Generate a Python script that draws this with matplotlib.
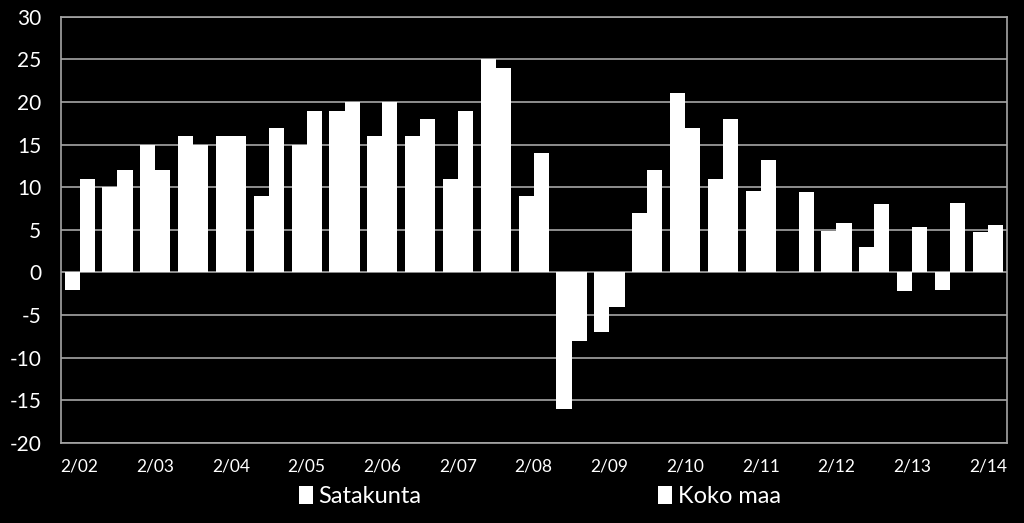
import numpy as np
import matplotlib
matplotlib.use("Agg")
import matplotlib.pyplot as plt

plt.rcParams['font.family'] = ['Lato', 'DejaVu Sans']
plt.rcParams['axes.unicode_minus'] = False

# puolivuosittaiset havainnot 2/02 ... 2/14
kaudet = ['2/02', '8/02', '2/03', '8/03', '2/04', '8/04', '2/05', '8/05',
          '2/06', '8/06', '2/07', '8/07', '2/08', '8/08', '2/09', '8/09',
          '2/10', '8/10', '2/11', '8/11', '2/12', '8/12', '2/13', '8/13', '2/14']
satakunta = [-2, 10, 15, 16, 16, 9, 15, 19, 16, 16, 11, 25, 9, -16, -7, 7,
             21, 11, 9.5, 0, 4.9, 3, -2.2, -2, 4.8]
koko_maa = [11, 12, 12, 15, 16, 17, 19, 20, 20, 18, 19, 24, 14, -8, -4, 12,
            17, 18, 13.2, 9.4, 5.8, 8, 5.3, 8.2, 5.6]

fig = plt.figure(figsize=(10.24, 5.23), dpi=100, facecolor='black')
ax = fig.add_axes([0.0593, 0.153, 0.9238, 0.815])
ax.set_facecolor('black')

x = np.arange(len(kaudet))
lev = 0.40
ax.bar(x - lev / 2, satakunta, width=lev, color='white', label='Satakunta', zorder=3)
ax.bar(x + lev / 2, koko_maa, width=lev, color='white', label='Koko maa', zorder=3)

ax.set_xlim(-0.5, len(kaudet) - 0.5)
ax.set_ylim(-20, 30)
ax.set_yticks(np.arange(-20, 31, 5))
ax.set_xticks(x[::2])
ax.set_xticklabels(kaudet[::2])
ax.yaxis.grid(True, color='#a6a6a6', linewidth=1.2, zorder=0)
ax.tick_params(axis='y', colors='white', labelsize=15, length=0, pad=14)
ax.tick_params(axis='x', colors='white', labelsize=12.5, length=0, pad=11)
for s in ax.spines.values():
    s.set_color('#a6a6a6')
    s.set_linewidth(1.2)

leg = fig.legend(loc='lower center', ncol=2, bbox_to_anchor=(0.527, -0.01),
                 frameon=False, fontsize=17, labelcolor='white',
                 handlelength=0.6, handleheight=0.8, handletextpad=0.25,
                 columnspacing=10)

fig.savefig('out.png', dpi=100, facecolor='black')
